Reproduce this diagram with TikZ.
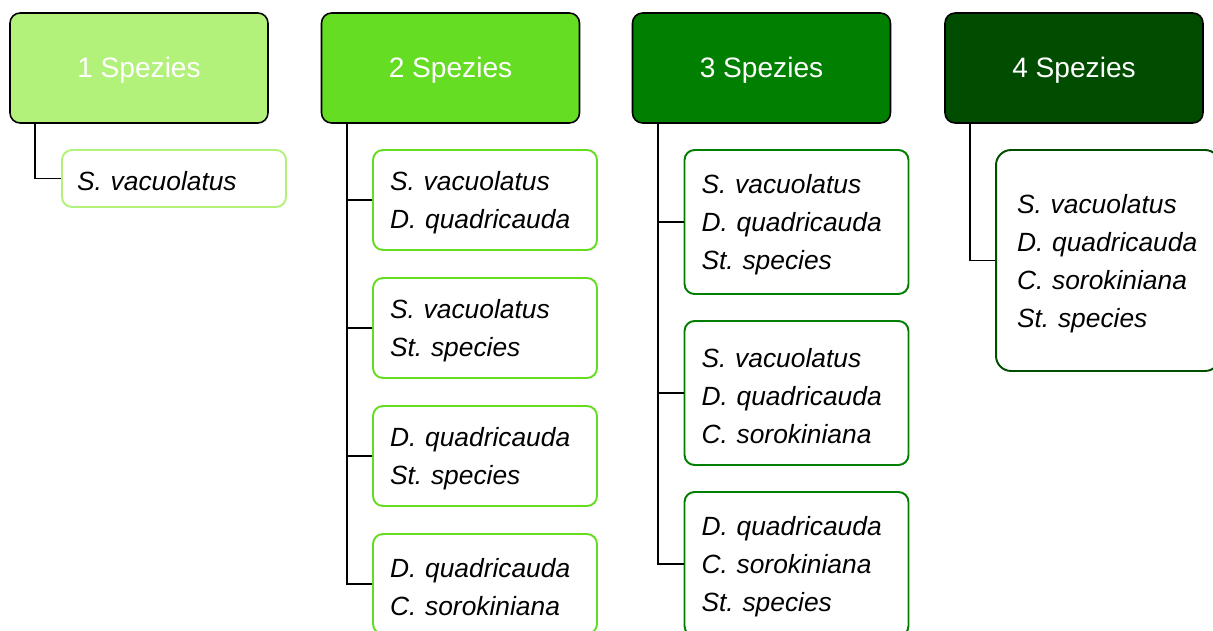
\documentclass[tikz,border=0pt]{standalone}
\usepackage{fontspec}
\setmainfont{Liberation Sans}
\frenchspacing
\usetikzlibrary{positioning}
\definecolor{gruena}{HTML}{B3F27A}
\definecolor{gruenb}{HTML}{64DD22}
\definecolor{gruenc}{HTML}{007F00}
\definecolor{gruend}{HTML}{004D00}

\begin{document}
\begin{tikzpicture}[x=0.02cm, y=-0.02cm,
            kopf/.style={draw=black, fill=#1, line width=0.9pt, rounded corners=0.2cm,
                minimum width=5.16cm, minimum height=2.2cm, text=white,
                text height=0.52cm, text depth=0.12cm,
                font=\fontsize{16}{19}\selectfont},
            art/.style={draw=#1, fill=white, line width=1.1pt, rounded corners=0.2cm,
                minimum width=4.48cm, text width=3.8cm, inner xsep=0.34cm, align=left,
                execute at begin node={\rule{0pt}{0.5cm}},
                font=\fontsize{15}{21.6}\selectfont\itshape},
            ast/.style={draw=black, line width=0.9pt}]
        \useasboundingbox (0,0) rectangle (1213,631);
        % Kopfzeile
        \node[kopf=gruena] (k1) at (139,68) {1 Spezies};
        \node[kopf=gruenb] (k2) at (450.5,68) {2 Spezies};
        \node[kopf=gruenc] (k3) at (761.5,68) {3 Spezies};
        \node[kopf=gruend] (k4) at (1074,68) {4 Spezies};
        % 1 Spezies
        \node[art=gruena, minimum height=1.14cm, inner xsep=0.3cm, text width=3.88cm] (a1) at (174,178.5) {S. vacuolatus};
        % 2 Spezies
        \node[art=gruenb, minimum height=2cm] (b1) at (485,200) {S. vacuolatus\\D. quadricauda};
        \node[art=gruenb, minimum height=2cm] (b2) at (485,328) {S. vacuolatus\\St. species};
        \node[art=gruenb, minimum height=2cm] (b3) at (485,456) {D. quadricauda\\St. species};
        \node[art=gruenb, minimum height=2cm] (b4) at (485,584) {D. quadricauda\\C. sorokiniana};
        % 3 Spezies
        \node[art=gruenc, minimum height=2.88cm] (c1) at (796.5,222) {S. vacuolatus\\D. quadricauda\\St. species};
        \node[art=gruenc, minimum height=2.88cm] (c2) at (796.5,393) {S. vacuolatus\\D. quadricauda\\C. sorokiniana};
        \node[art=gruenc, minimum height=2.88cm] (c3) at (796.5,564) {D. quadricauda\\C. sorokiniana\\St. species};
        % 4 Spezies
        \node[art=gruend, minimum height=4.42cm, rounded corners=0.3cm, text width=3.64cm, inner xsep=0.42cm] (d1) at (1108,260.5)
            {S. vacuolatus\\D. quadricauda\\C. sorokiniana\\St. species};
        % Verbindungen
        \coordinate (s1) at ([xshift=0.52cm]k1.south west);
        \coordinate (s2) at ([xshift=0.52cm]k2.south west);
        \coordinate (s3) at ([xshift=0.52cm]k3.south west);
        \coordinate (s4) at ([xshift=0.52cm]k4.south west);
        \draw[ast] (s1) |- (a1.west);
        \draw[ast] (s2) |- (b4.west);
        \foreach \n in {b1,b2,b3}
            \draw[ast] (\n.west) -- (\n.west -| s2);
        \draw[ast] (s3) |- (c3.west);
        \foreach \n in {c1,c2}
            \draw[ast] (\n.west) -- (\n.west -| s3);
        \draw[ast] (s4) |- (d1.west);
\end{tikzpicture}
\end{document}
